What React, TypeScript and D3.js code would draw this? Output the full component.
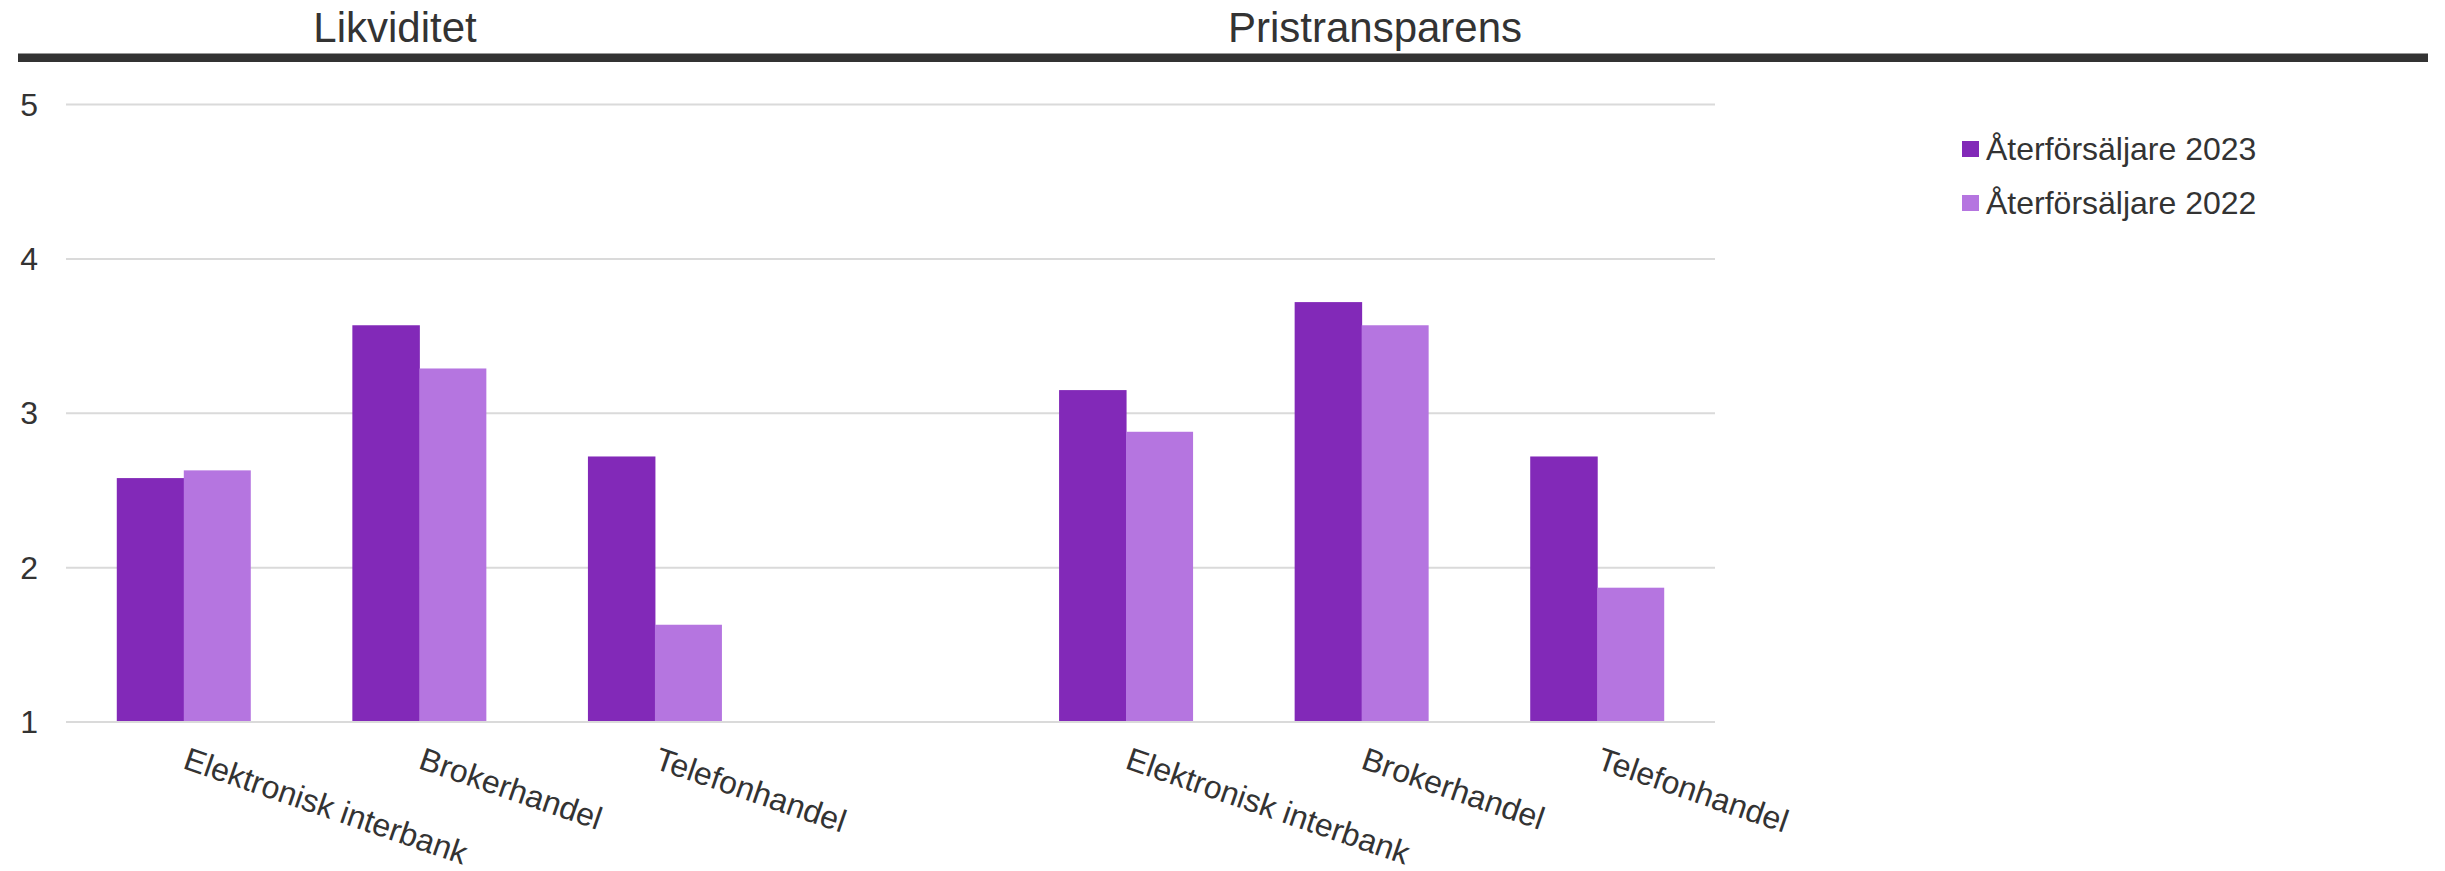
import React from "react";
import * as d3 from "d3";

// ---- Data ----
const panels = ["Likviditet", "Pristransparens"];
const categories = ["Elektronisk interbank", "Brokerhandel", "Telefonhandel"];
const seriesNames = ["Återförsäljare 2023", "Återförsäljare 2022"];
const likviditet2023 = [2.58, 3.57, 2.72];
const likviditet2022 = [2.63, 3.29, 1.63];
const pristransparens2023 = [3.15, 3.72, 2.72];
const pristransparens2022 = [2.88, 3.57, 1.87];
const yTicks = [1, 2, 3, 4, 5];

const panelValues: number[][][] = [
  [likviditet2023, likviditet2022],
  [pristransparens2023, pristransparens2022],
];

// ---- Layout ----
const W = 2445;
const H = 871;
const plotLeft = 66;
const plotRight = 1715;
const yBottom = 722;
const yTop = 104.5;
const colors = ["#8229B8", "#B575E0"];
const textColor = "#333333";
const gridColor = "#dadada";
const font = "'Liberation Sans', Arial, Helvetica, sans-serif";
const titleCenters = [395, 1375];

export default function App() {
  const y = d3.scaleLinear().domain([1, 5]).range([yBottom, yTop]);
  const outer = d3
    .scaleBand<string>()
    .domain(panels)
    .range([plotLeft, plotRight])
    .paddingInner(0.25)
    .paddingOuter(0);
  const inner = d3
    .scaleBand<string>()
    .domain(categories)
    .range([0, outer.bandwidth()])
    .padding(0);
  const series = d3
    .scaleBand<string>()
    .domain(seriesNames)
    .range([0, inner.bandwidth()])
    .paddingInner(0)
    .paddingOuter(0.758);

  return (
    <svg
      width={W}
      height={H}
      viewBox={`0 0 ${W} ${H}`}
      style={{ position: "absolute", left: 0, top: 0, display: "block", background: "#fff" }}
      fontFamily={font}
    >
      {/* panel titles */}
      {panels.map((p, i) => (
        <text
          key={p}
          x={titleCenters[i]}
          y={42}
          textAnchor="middle"
          fontSize={42}
          fill={textColor}
        >
          {p}
        </text>
      ))}
      {/* header bar */}
      <rect x={18} y={53.5} width={2410} height={8.5} fill="#333333" />

      {/* gridlines + y ticks */}
      {yTicks.map((t) => (
        <g key={t}>
          <line
            x1={plotLeft}
            x2={plotRight}
            y1={y(t)}
            y2={y(t)}
            stroke={gridColor}
            strokeWidth={2}
          />
          <text
            x={38}
            y={y(t)}
            dy="0.35em"
            textAnchor="end"
            fontSize={32}
            fill={textColor}
          >
            {t}
          </text>
        </g>
      ))}

      {/* bars */}
      {panels.map((p, pi) => (
        <g key={p} transform={`translate(${outer(p)},0)`}>
          {categories.map((c, ci) => (
            <g key={c} transform={`translate(${inner(c)},0)`}>
              {seriesNames.map((s, si) => {
                const v = panelValues[pi][si][ci];
                return (
                  <rect
                    key={s}
                    x={series(s)}
                    y={y(v)}
                    width={series.bandwidth() + (si === 0 ? 0.5 : 0)}
                    height={y(1) - y(v) - 1}
                    fill={colors[si]}
                  />
                );
              })}
              <text
                transform={`translate(${inner.bandwidth() / 2 - 2},${yBottom + 46}) rotate(19)`}
                fontSize={32}
                fill={textColor}
              >
                {c}
              </text>
            </g>
          ))}
        </g>
      ))}

      {/* legend */}
      {seriesNames.map((s, i) => (
        <g key={s} transform={`translate(1962,${149 + i * 54})`}>
          <rect x={0} y={-8} width={17} height={16} fill={colors[i]} />
          <text x={24} y={0} dy="0.35em" fontSize={32} fill={textColor}>
            {s}
          </text>
        </g>
      ))}
    </svg>
  );
}
